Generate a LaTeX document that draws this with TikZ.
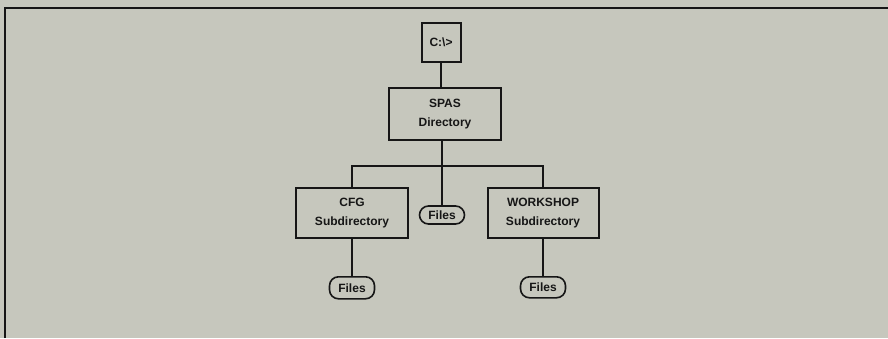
\documentclass[tikz,border=0pt]{standalone}
\usepackage{fontspec}
\setmainfont{Liberation Sans}
\usepackage{xcolor}
\usetikzlibrary{positioning}
\definecolor{paper}{HTML}{C6C7BD}
\definecolor{ink}{HTML}{161616}

\begin{document}
\begin{tikzpicture}[
    x=1pt, y=1pt,
    dirbox/.style={rectangle, draw=ink, line width=2pt, align=center, inner sep=0pt,
        font=\fontsize{12}{19}\selectfont\bfseries, text=ink},
    filebox/.style={rectangle, draw=ink, line width=1.6pt, rounded corners=9pt, inner sep=0pt,
        minimum width=45pt, font=\fontsize{12}{12}\selectfont\bfseries, text=ink},
    link/.style={draw=ink, line width=2pt}
]
\fill[paper] (0,0) rectangle (888,338);
\useasboundingbox (0,0) rectangle (888,338);
\draw[ink, line width=2pt] (5,0) -- (5,330) -- (888,330);

\node[dirbox, minimum width=39pt, minimum height=39pt] (root) at (441,295.5) {C:\textbackslash>};
\node[dirbox, minimum width=112pt, minimum height=52pt] (spas) at (445,224) {SPAS\\Directory};
\node[dirbox, minimum width=112pt, minimum height=50pt] (cfg) at (352,125) {CFG\\Subdirectory};
\node[dirbox, minimum width=111pt, minimum height=50pt] (ws) at (543,125) {WORKSHOP\\Subdirectory};

\node[filebox, minimum height=18pt] (midfiles) at (442,123) {Files};
\node[filebox, minimum height=22pt, below=37pt of cfg] (cfgfiles) {Files};
\node[filebox, minimum height=21pt, below=37pt of ws] (wsfiles) {Files};

% tree lines
\draw[link] (root) -- (root |- spas.north);
\coordinate (bus) at (442,172);
\draw[link] (bus |- spas.south) -- (bus);
\draw[link] (cfg.north) |- (bus) -| (ws.north);
\draw[link] (bus) -- (midfiles.north);
\draw[link] (cfg) -- (cfgfiles);
\draw[link] (ws) -- (wsfiles);

\end{tikzpicture}
\end{document}
